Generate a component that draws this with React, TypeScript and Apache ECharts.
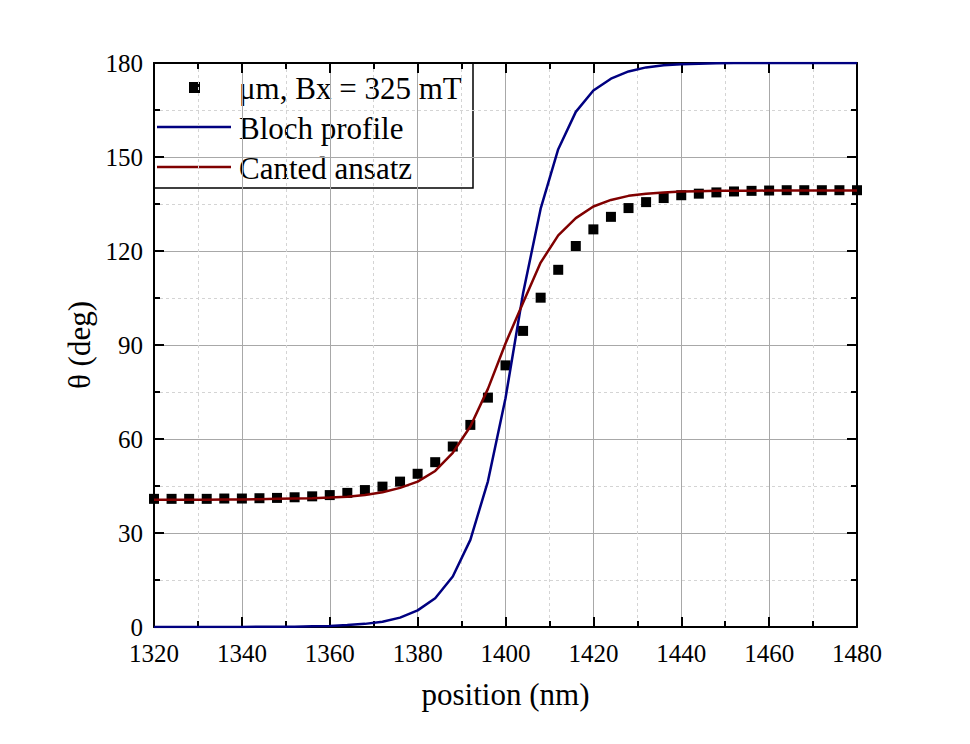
import React, { useEffect, useRef } from "react";
import * as echarts from "echarts";

const positions = [1320, 1324, 1328, 1332, 1336, 1340, 1344, 1348, 1352, 1356, 1360, 1364, 1368, 1372, 1376, 1380, 1384, 1388, 1392, 1396, 1400, 1404, 1408, 1412, 1416, 1420, 1424, 1428, 1432, 1436, 1440, 1444, 1448, 1452, 1456, 1460, 1464, 1468, 1472, 1476, 1480];

const measured = [40.9, 40.9, 40.9, 40.9, 41.0, 41.0, 41.1, 41.2, 41.4, 41.7, 42.1, 42.8, 43.7, 44.8, 46.4, 48.9, 52.6, 57.6, 64.5, 73.2, 83.5, 94.5, 105.1, 114.0, 121.6, 126.9, 130.9, 133.7, 135.6, 136.9, 137.8, 138.3, 138.7, 139.0, 139.2, 139.3, 139.4, 139.4, 139.4, 139.4, 139.4];

const bloch = [0, 0, 0, 0, 0, 0, 0.1, 0.1, 0.1, 0.2, 0.3, 0.6, 1.0, 1.7, 3.0, 5.3, 9.2, 16.1, 27.8, 46.5, 73.0, 106.5, 133.5, 152.5, 164.4, 171.2, 175.0, 177.3, 178.6, 179.3, 179.6, 179.8, 179.9, 180, 180, 180, 180, 180, 180, 180, 180];

const canted = [40.6, 40.6, 40.6, 40.6, 40.7, 40.7, 40.8, 40.9, 41.0, 41.1, 41.3, 41.6, 42.1, 43.0, 44.4, 46.4, 49.8, 55.6, 64.0, 76.0, 90.5, 103.5, 116.3, 125.0, 130.5, 134.2, 136.3, 137.6, 138.3, 138.7, 139.0, 139.1, 139.2, 139.2, 139.2, 139.3, 139.3, 139.3, 139.3, 139.3, 139.3];

const seriesNames = ["\u03bcm, Bx = 325 mT", "Bloch profile", "Canted ansatz"];
const xTitle = "position (nm)";
const yTitle = "\u03b8 (deg)";

const FONT = "Liberation Serif";
const NAVY = "#000080";
const WINE = "#800000";

function pairs(ys: number[]) {
  return positions.map((x, i) => [x, ys[i]]);
}

export default function App() {
  const ref = useRef<HTMLDivElement>(null);
  useEffect(() => {
    if (!ref.current) return;
    const chart = echarts.init(ref.current, undefined, { renderer: "svg" });
    const axisCommon = {
      axisLine: { show: true, onZero: false, lineStyle: { color: "#000", width: 2 } },
      axisTick: { show: true, inside: true, length: 10, lineStyle: { color: "#000", width: 2 } },
      minorTick: { show: true, splitNumber: 2, length: 6, lineStyle: { color: "#000", width: 2 } },
    };
    const labelStyle = {
      color: "#000",
      fontSize: 25,
      fontFamily: FONT,
      formatter: (v: number) => String(v),
    };
    chart.setOption({
      animation: false,
      backgroundColor: "#fff",
      textStyle: { fontFamily: FONT },
      grid: { left: 154, top: 63, width: 703, height: 564, containLabel: false },
      xAxis: [
        {
          type: "value",
          min: 1320,
          max: 1480,
          interval: 20,
          position: "bottom",
          ...axisCommon,
          axisLabel: { ...labelStyle, margin: 14 },
          splitLine: { show: true, lineStyle: { color: "#a8a8a8", width: 1 } },
          minorSplitLine: { show: true, lineStyle: { color: "#d4d4d4", width: 1, type: [3, 3] } },
          name: xTitle,
          nameLocation: "middle",
          nameGap: 52,
          nameTextStyle: { color: "#000", fontSize: 31, fontFamily: FONT },
        },
        {
          type: "value",
          min: 1320,
          max: 1480,
          interval: 20,
          position: "top",
          ...axisCommon,
          axisLabel: { show: false },
          splitLine: { show: false },
        },
      ],
      yAxis: [
        {
          type: "value",
          min: 0,
          max: 180,
          interval: 30,
          position: "left",
          ...axisCommon,
          axisLabel: { ...labelStyle, margin: 11 },
          splitLine: { show: true, lineStyle: { color: "#a8a8a8", width: 1 } },
          minorSplitLine: { show: true, lineStyle: { color: "#d4d4d4", width: 1, type: [3, 3] } },
          name: yTitle,
          nameLocation: "middle",
          nameRotate: 90,
          nameGap: 56,
          nameTextStyle: { color: "#000", fontSize: 31, fontFamily: FONT },
        },
        {
          type: "value",
          min: 0,
          max: 180,
          interval: 30,
          position: "right",
          ...axisCommon,
          axisLabel: { show: false },
          splitLine: { show: false },
        },
      ],
      series: [
        {
          name: seriesNames[0],
          type: "scatter",
          data: pairs(measured),
          symbol: "rect",
          symbolSize: 10,
          itemStyle: { color: "#000", opacity: 1 },
          z: 2,
        },
        {
          name: seriesNames[1],
          type: "line",
          data: pairs(bloch),
          showSymbol: false,
          symbol: "none",
          lineStyle: { color: NAVY, width: 2.5 },
          itemStyle: { color: NAVY },
          z: 3,
        },
        {
          name: seriesNames[2],
          type: "line",
          data: pairs(canted),
          showSymbol: false,
          symbol: "none",
          lineStyle: { color: WINE, width: 2.5 },
          itemStyle: { color: WINE },
          z: 4,
        },
      ],
      graphic: [
        {
          type: "group",
          z: 100,
          children: [
            {
              type: "rect",
              shape: { x: 154, y: 63, width: 319, height: 125 },
              style: { fill: "#fff", stroke: "#000", lineWidth: 1.5 },
            },
            {
              type: "rect",
              shape: { x: 189, y: 82, width: 11, height: 11 },
              style: { fill: "#000" },
            },
            {
              type: "line",
              shape: { x1: 157, y1: 127, x2: 231, y2: 127 },
              style: { stroke: NAVY, lineWidth: 2.5 },
            },
            {
              type: "line",
              shape: { x1: 157, y1: 167, x2: 231, y2: 167 },
              style: { stroke: WINE, lineWidth: 2.5 },
            },
            {
              type: "text",
              x: 239,
              y: 88,
              style: { text: seriesNames[0], fill: "#000", font: `31px ${FONT}`, verticalAlign: "middle", align: "left" },
            },
            {
              type: "text",
              x: 239,
              y: 128,
              style: { text: seriesNames[1], fill: "#000", font: `31px ${FONT}`, verticalAlign: "middle", align: "left" },
            },
            {
              type: "text",
              x: 239,
              y: 168,
              style: { text: seriesNames[2], fill: "#000", font: `31px ${FONT}`, verticalAlign: "middle", align: "left" },
            },
          ],
        },
      ],
    });
    return () => chart.dispose();
  }, []);
  return (
    <div
      ref={ref}
      style={{ position: "fixed", left: 0, top: 0, width: 970, height: 744, background: "#fff" }}
    />
  );
}
